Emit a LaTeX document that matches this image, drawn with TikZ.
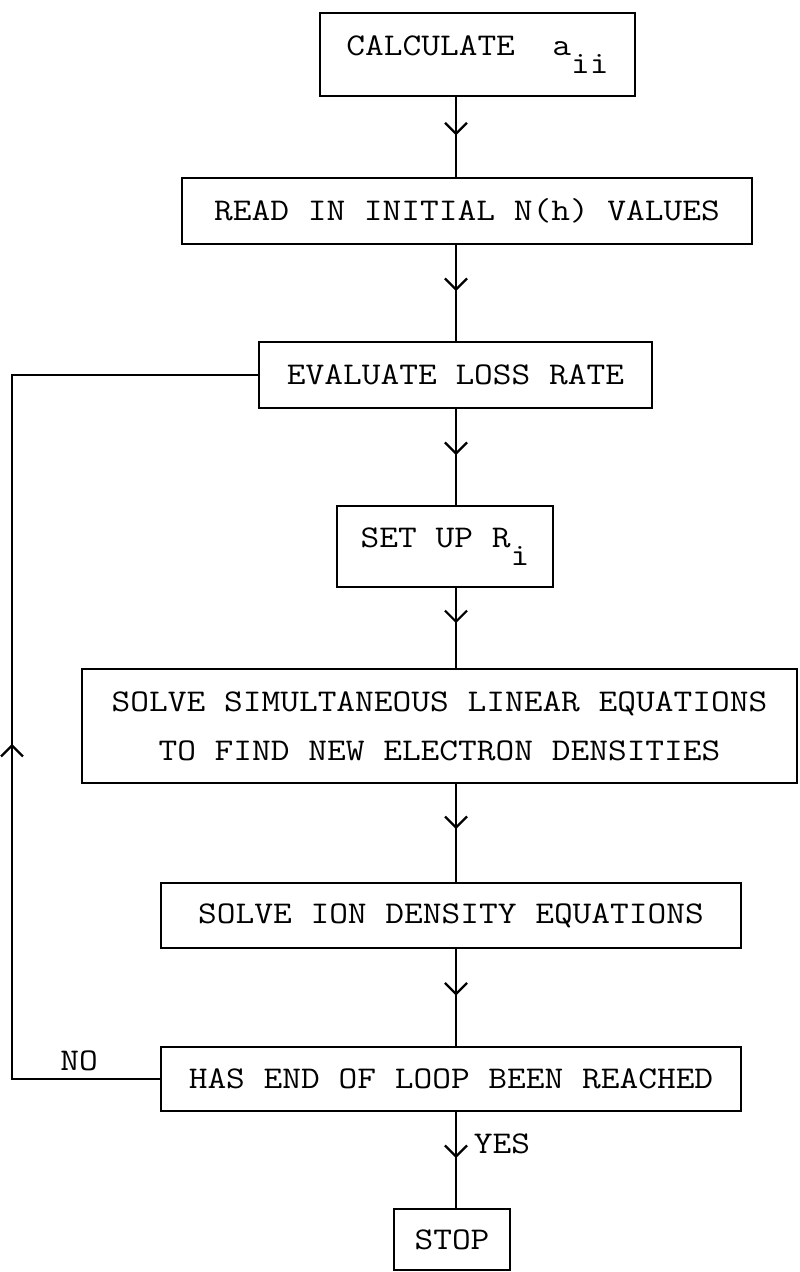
\documentclass[tikz,border=0pt]{standalone}
\usepackage{graphicx}
\usepackage{tikz}
\usetikzlibrary{arrows.meta,decorations.markings}

\newcommand{\tw}[1]{\scalebox{1.15}[1]{#1}}

\begin{document}
\begin{tikzpicture}[
  x=0.02cm, y=-0.02cm,
  box/.style={draw, line width=1.4pt, inner sep=0pt, align=center,
              font=\ttfamily\fontsize{18}{28}\selectfont},
  lbl/.style={font=\ttfamily\fontsize{18}{22}\selectfont},
  arr/.style={line width=1.3pt, postaction=decorate,
              decoration={markings, mark=at position #1 with
                {\arrow{Straight Barb[length=2.2mm,width=4.4mm,line width=1.3pt]}}}},
  arr/.default=0.48]
\useasboundingbox (0,0) rectangle (799,1272);
\coordinate (spine) at (456,0);
\coordinate (back) at (12,0);
\node[box, minimum width=6.3cm, minimum height=1.66cm] (calc) at (477.5,54.5)
  {\tw{CALCULATE\ \ a\raisebox{-10pt}{ii}}};
\node[box, minimum width=11.4cm, minimum height=1.32cm] (read) at (467,211)
  {\tw{READ IN INITIAL N(h) VALUES}};
\node[box, minimum width=7.86cm, minimum height=1.32cm] (loss) at (455.5,375)
  {\tw{EVALUATE LOSS RATE}};
\node[box, minimum width=4.32cm, minimum height=1.62cm] (setup) at (445,546.5)
  {\tw{SET UP R\raisebox{-10pt}{i}}};
\node[box, minimum width=14.3cm, minimum height=2.28cm] (solve) at (439.5,726)
  {\tw{SOLVE SIMULTANEOUS LINEAR EQUATIONS}\\ \tw{TO FIND NEW ELECTRON DENSITIES}};
\node[box, minimum width=11.6cm, minimum height=1.3cm] (ion) at (451,915.5)
  {\tw{SOLVE ION DENSITY EQUATIONS}};
\node[box, minimum width=11.6cm, minimum height=1.28cm] (endq) at (451,1079)
  {\tw{HAS END OF LOOP BEEN REACHED}};
\node[box, minimum width=2.32cm, minimum height=1.22cm] (stop) at (452,1239.5)
  {\tw{STOP}};
\node[lbl] (no) at (79,1061) {\tw{NO}};
\node[lbl] (yes) at (502,1144) {\tw{YES}};
% main flow down the spine
\draw[arr] (calc.south -| spine) -- (read.north -| spine);
\draw[arr] (read.south -| spine) -- (loss.north -| spine);
\draw[arr] (loss.south -| spine) -- (setup.north -| spine);
\draw[arr=0.44] (setup.south -| spine) -- (solve.north -| spine);
\draw[arr=0.46] (solve.south -| spine) -- (ion.north -| spine);
\draw[arr] (ion.south -| spine) -- (endq.north -| spine);
\draw[arr] (endq.south -| spine) -- (stop.north -| spine);
% loop back
\draw[arr=0.44] (endq.west) -- (endq.west -| back) -- (loss.west -| back) -- (loss.west);
\end{tikzpicture}
\end{document}
